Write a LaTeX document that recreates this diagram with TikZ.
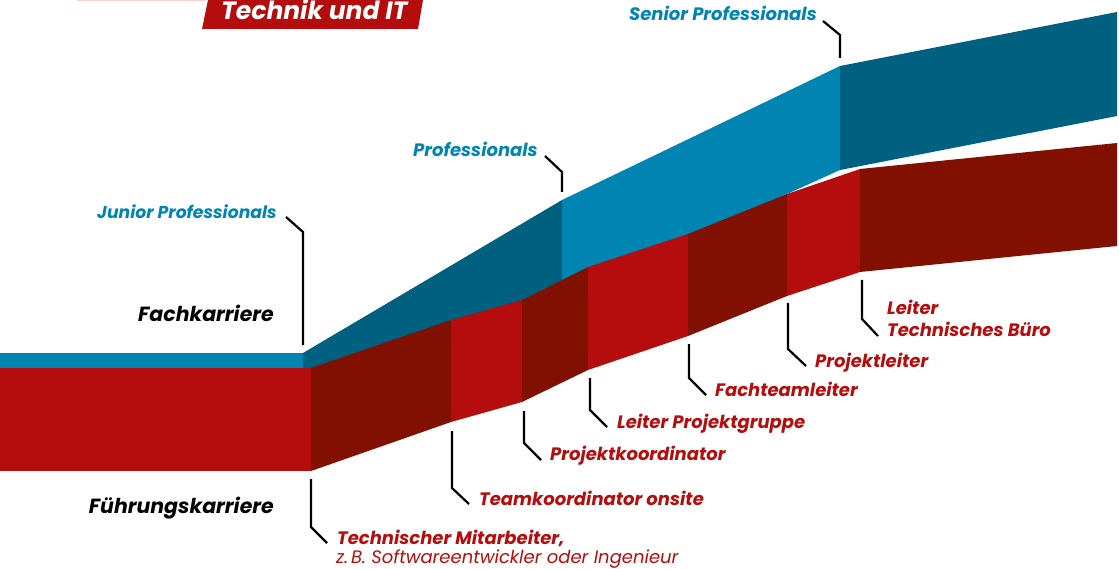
\documentclass[tikz,border=0pt]{standalone}
\usepackage{fontspec}
\setmainfont{Poppins}
\usepackage{tikz}
\usetikzlibrary{positioning}
\definecolor{lightblue}{RGB}{0,133,179}
\definecolor{darkblue}{RGB}{0,96,128}
\definecolor{brightred}{RGB}{181,13,13}
\definecolor{darkred}{RGB}{130,16,0}
\tikzset{
    %Define style for the band pieces
    hellblau/.style={fill=lightblue},
    dunkelblau/.style={fill=darkblue},
    hellrot/.style={fill=brightred},
    dunkelrot/.style={fill=darkred},
    % Define leader line style
    pfeil/.style={
           draw=black,
           line width=2.2pt},
    % Define label styles
    stufe/.style={inner sep=0pt,font=\fontsize{18}{21}\selectfont\bfseries\itshape},
    fach/.style={stufe,text=lightblue,anchor=base west},
    fuehrung/.style={stufe,text=brightred,anchor=base west,align=left},
    karriere/.style={inner sep=0pt,font=\fontsize{20.5}{24}\selectfont\bfseries\itshape,text=black,anchor=base east}
}

\begin{document}
\begin{tikzpicture}[x=1pt,y=-1pt]
  \useasboundingbox (0,0) rectangle (1119,569);
  % title
  \draw[red!20,line width=1pt] (77,0.5) -- (206,0.5);
  \fill[brightred] (208,0) -- (423,0) -- (418,29) -- (202,29) -- cycle;
  \node[inner sep=0pt,anchor=base west,text=white,font=\fontsize{25}{28}\selectfont\bfseries\itshape] (titel) at (221,20) {Technik und IT};
  % Fachkarriere band
  \path[hellblau]   (0,353) -- (303,353) -- (303,369) -- (0,369) -- cycle;
  \path[dunkelblau] (303,353) -- (562,200) -- (562,300) -- (303,372) -- cycle;
  \path[hellblau]   (562,200) -- (840,66) -- (840,170) -- (787,194) -- (688,236) -- (562,286) -- cycle;
  \path[dunkelblau] (840,66) -- (1117,12) -- (1117,116) -- (840,170) -- cycle;
  % Fuehrungskarriere band
  \path[hellrot]   (0,368) -- (311,368) -- (311,471) -- (0,471) -- cycle;
  \path[dunkelrot] (311,368) -- (451,320) -- (451,422) -- (311,471) -- cycle;
  \path[hellrot]   (451,320) -- (522,300) -- (522,402) -- (451,422) -- cycle;
  \path[dunkelrot] (522,300) -- (588,267) -- (588,370) -- (522,402) -- cycle;
  \path[hellrot]   (588,267) -- (688,234) -- (688,336) -- (588,370) -- cycle;
  \path[dunkelrot] (688,234) -- (787,194) -- (787,296) -- (688,336) -- cycle;
  \path[hellrot]   (787,194) -- (860,169) -- (860,272) -- (787,296) -- cycle;
  \path[dunkelrot] (860,169) -- (1117,143) -- (1117,246) -- (860,272) -- cycle;

  % labels
  \node[karriere] (fk) at (274,322) {Fachkarriere};
  \node[karriere] (fuk) at (274,513) {Führungskarriere};
  \node[fach,font=\fontsize{17.2}{20}\selectfont\bfseries\itshape] (junior) at (97,219) {Junior Professionals};
  \node[fach] (prof) at (413,157) {Professionals};
  \node[fach] (senior) at (629,21) {Senior Professionals};
  \node[fuehrung] (techma) at (337,544) {Technischer Mitarbeiter,};
  \node[inner sep=0pt,anchor=base west,text=brightred,font=\fontsize{18}{21}\selectfont\itshape] (bsp) at (336,563.5) {z.\,B. Softwareentwickler oder Ingenieur};
  \node[fuehrung] (teamk) at (479,505) {Teamkoordinator onsite};
  \node[fuehrung] (projk) at (550,460) {Projektkoordinator};
  \node[fuehrung] (leiterpg) at (617,428) {Leiter Projektgruppe};
  \node[fuehrung] (fachtl) at (715,396) {Fachteamleiter};
  \node[fuehrung] (projl) at (815,367) {Projektleiter};
  \node[fuehrung] (leitertb) at (887,315) {Leiter};
  \node[fuehrung] (leitertb2) at (887,336) {Technisches Büro};

  % leader points
  \coordinate (j1) at (286,217); \coordinate (j2) at (303,232); \coordinate (j3) at (303,345);
  \coordinate (p1) at (545,156); \coordinate (p2) at (562,172); \coordinate (p3) at (562,192);
  \coordinate (s1) at (823,21);  \coordinate (s2) at (840,35);  \coordinate (s3) at (840,58);
  \coordinate (t1) at (311,479); \coordinate (t2) at (311,527); \coordinate (t3) at (327,543);
  \coordinate (k1) at (452,431); \coordinate (k2) at (452,488); \coordinate (k3) at (469,504);
  \coordinate (q1) at (524,411); \coordinate (q2) at (524,443); \coordinate (q3) at (541,460);
  \coordinate (g1) at (590,378); \coordinate (g2) at (590,410); \coordinate (g3) at (607,427);
  \coordinate (f1) at (689,344); \coordinate (f2) at (689,378); \coordinate (f3) at (706,395);
  \coordinate (l1) at (788,303); \coordinate (l2) at (788,349); \coordinate (l3) at (806,366);
  \coordinate (b1) at (862,280); \coordinate (b2) at (862,319); \coordinate (b3) at (878,336);
  \path[pfeil]
    (j1) -- (j2) -- (j3)
    (p1) -- (p2) -- (p3)
    (s1) -- (s2) -- (s3)
    (t1) -- (t2) -- (t3)
    (k1) -- (k2) -- (k3)
    (q1) -- (q2) -- (q3)
    (g1) -- (g2) -- (g3)
    (f1) -- (f2) -- (f3)
    (l1) -- (l2) -- (l3)
    (b1) -- (b2) -- (b3);
\end{tikzpicture}
\end{document}
